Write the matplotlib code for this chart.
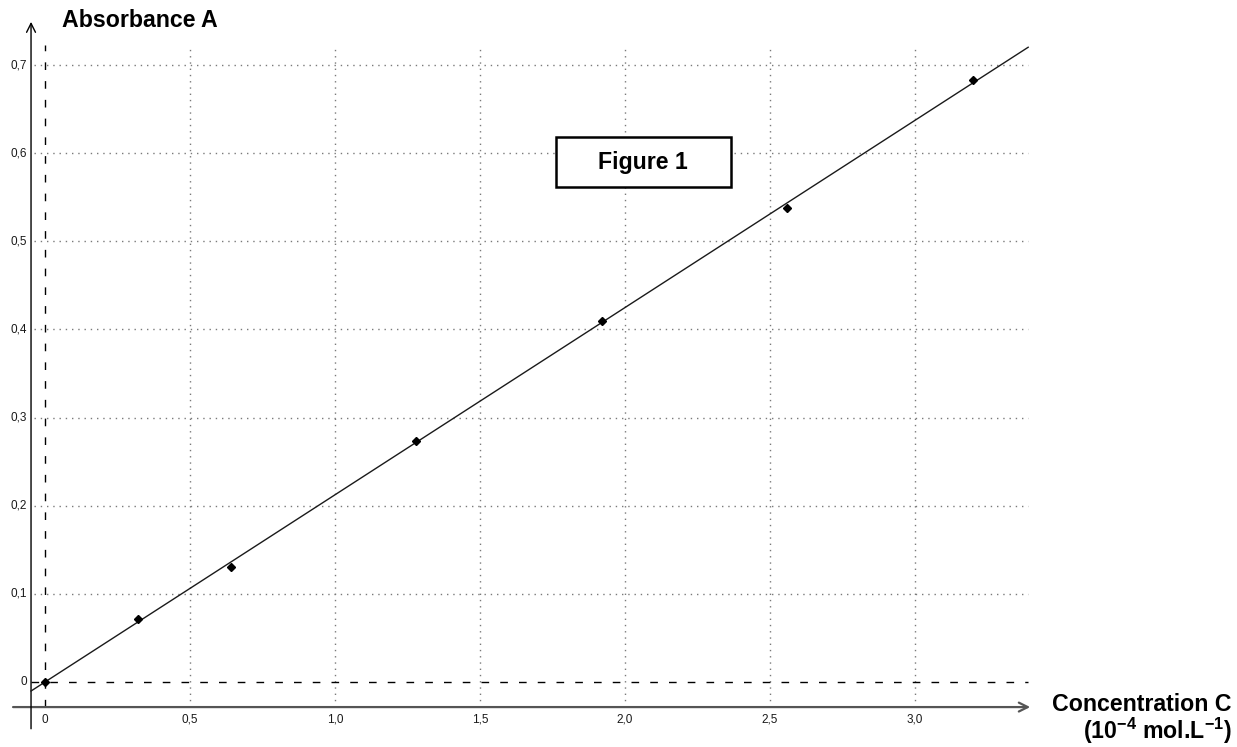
import numpy as np
import matplotlib
matplotlib.use("Agg")
import matplotlib.pyplot as plt
from matplotlib.patches import Rectangle

plt.rcParams['font.family'] = ['Liberation Sans', 'DejaVu Sans']
plt.rcParams['mathtext.fontset'] = 'custom'
plt.rcParams['mathtext.rm'] = 'Liberation Sans:bold'
plt.rcParams['mathtext.bf'] = 'Liberation Sans:bold'
plt.rcParams['mathtext.it'] = 'Liberation Sans:bold'

# ---- data ----
conc = [0.0, 0.32, 0.64, 1.28, 1.92, 2.56, 3.20]
absorb = [0.0, 0.072, 0.131, 0.274, 0.410, 0.538, 0.683]
x_ticks = [0.0, 0.5, 1.0, 1.5, 2.0, 2.5, 3.0]
x_tick_labels = ["0", "0,5", "1,0", "1,5", "2,0", "2,5", "3,0"]
y_ticks = [0.0, 0.1, 0.2, 0.3, 0.4, 0.5, 0.6, 0.7]
y_tick_labels = ["0", "0,1", "0,2", "0,3", "0,4", "0,5", "0,6", "0,7"]

# ---- layout ----
fig = plt.figure(figsize=(12.37, 7.47), dpi=100)
ax = fig.add_axes([0, 0, 1, 1])
ax.set_xlim(-0.155, 4.110)
ax.set_ylim(-0.0737, 0.7738)
ax.axis('off')

x_left, x_right = -0.048, 3.39
y_bot, y_top = -0.0284, 0.723

# grid
grid_kw = dict(color='#7a7a7a', lw=1.0, linestyle=(0, (1, 3.5)), zorder=1)
for yt in y_ticks[1:]:
    ax.plot([x_left + 0.01, x_right], [yt, yt], **grid_kw)
for xt in x_ticks[1:]:
    ax.plot([xt, xt], [y_bot, y_top], **grid_kw)

# dashed zero lines
dash_kw = dict(color='black', lw=1.0, linestyle=(0, (5.5, 8)), zorder=2)
ax.plot([0, 0], [y_bot, y_top], **dash_kw)
ax.plot([x_left, x_right], [0, 0], **dash_kw)

# axes with arrows
ax.annotate('', xy=(3.397, y_bot), xytext=(-0.110, y_bot),
            arrowprops=dict(arrowstyle='->', color='#555555', lw=1.6,
                            mutation_scale=16, shrinkA=0, shrinkB=0), zorder=3)
ax.annotate('', xy=(x_left, 0.749), xytext=(x_left, -0.053),
            arrowprops=dict(arrowstyle='->', color='black', lw=1.0,
                            mutation_scale=16, shrinkA=0, shrinkB=0), zorder=3)

# tick labels
for xt, lab in zip(x_ticks, x_tick_labels):
    ax.text(xt, -0.043, lab, ha='center', va='center', fontsize=8.5, color='#1a1a1a')
for yt, lab in zip(y_ticks, y_tick_labels):
    ax.text(-0.062, yt, lab, ha='right', va='center', fontsize=8.5, color='#1a1a1a')

# regression line (least squares through origin)
c = np.array(conc)
a = np.array(absorb)
slope = np.sum(c * a) / np.sum(c * c)
xl = np.array([x_left, x_right])
ax.plot(xl, slope * xl, color='#1a1a1a', lw=1.0, zorder=4)

# data points
ax.plot(conc, absorb, linestyle='none', marker='D', markersize=4.5,
        color='black', zorder=5)

# labels
ax.text(0.0586, 0.751, "Absorbance A", ha='left', va='center',
        fontsize=16.7, fontweight='bold')
ax.text(4.09, -0.026, "Concentration C", ha='right', va='center',
        fontsize=16.7, fontweight='bold')
ax.text(4.09, -0.0555, r"(10$^{-4}$ mol.L$^{-1}$)", ha='right', va='center',
        fontsize=16.7, fontweight='bold')

# Figure 1 box
ax.add_patch(Rectangle((1.762, 0.5616), 2.366 - 1.762, 0.6183 - 0.5616,
                       facecolor='white', edgecolor='black', lw=1.8, zorder=6))
ax.text(2.062, 0.59, "Figure 1", ha='center', va='center',
        fontsize=16.7, fontweight='bold', zorder=7)

fig.savefig("out.png", dpi=100)
